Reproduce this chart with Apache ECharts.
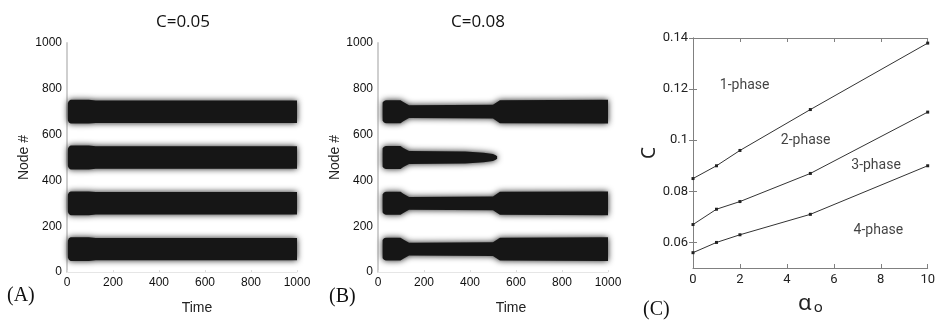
<!DOCTYPE html>
<html><head><meta charset="utf-8">
<script src="https://cdn.jsdelivr.net/npm/echarts@6/dist/echarts.min.js"></script>
<style>html,body{margin:0;padding:0;background:#fff}#c{width:938px;height:320px}</style>
</head><body><div id="c"></div>
<script>
// ---- Panels A and B: node activity bands ----
const bandCentersA = [100, 300, 500, 700];
const profileTimeA = [4, 8, 16, 95, 125, 1000];
const profileHalfA = [38, 47, 52, 52, 49, 49];
const bandCentersB = [100, 300, 700];
const profileTimeB = [20, 26, 34, 98, 110, 135, 500, 530, 1000];
const profileHalfB = [40, 47, 50, 50, 42, 28, 30, 50, 52];
const bandCenterB500 = 500;
const profileTimeB500 = [20, 26, 34, 98, 110, 135, 380, 460, 500, 512, 518];
const profileHalfB500 = [40, 47, 50, 50, 42, 28, 26, 21, 15, 10, 5];
const titlesAB = ['C=0.05', 'C=0.08'];
// ---- Panel C: phase diagram ----
const alphaX = [0, 1, 2, 5, 10];
const line1 = [0.085, 0.090, 0.096, 0.112, 0.138];
const line2 = [0.067, 0.073, 0.076, 0.087, 0.111];
const line3 = [0.056, 0.060, 0.063, 0.071, 0.090];
const phaseLabels = ['1-phase', '2-phase', '3-phase', '4-phase'];
const phaseX = [2.2, 4.8, 7.8, 7.9];
const phaseY = [0.1215, 0.100, 0.090, 0.0645];
const cTicks = [0.06, 0.08, 0.1, 0.12, 0.14];
const panelLetters = ['(A)', '(B)', '(C)'];

const profiles = [
  [profileTimeA, profileHalfA],
  [profileTimeB, profileHalfB],
  [profileTimeB500, profileHalfB500]
];

function bandItem(params, api) {
  const center = api.value(1);
  const prof = profiles[api.value(2)];
  const ts = prof[0], hs = prof[1];
  const pts = [];
  for (let i = 0; i < ts.length; i++) pts.push(api.coord([ts[i], center + hs[i]]));
  for (let i = ts.length - 1; i >= 0; i--) pts.push(api.coord([ts[i], center - hs[i]]));
  return {
    type: 'polygon',
    shape: { points: pts },
    style: { fill: '#161616', shadowBlur: 6, shadowColor: 'rgba(0,0,0,0.9)' }
  };
}

const dataA = bandCentersA.map(c => [0, c, 0]);
const dataB = bandCentersB.map(c => [0, c, 1]).concat([[0, bandCenterB500, 2]]);

const tickFont = { color: '#111', fontSize: 12, fontFamily: 'Liberation Sans, Arial, sans-serif', formatter: v => String(v) };
const cFont = { color: '#222', fontSize: 13, fontFamily: 'Roboto, sans-serif' };

function abX(gi, padLeft) {
  return {
    type: 'value', gridIndex: gi, min: 0, max: 1000, interval: 200,
    axisLine: { show: true, lineStyle: { color: '#e6e6e6', width: 1 } },
    axisTick: { show: true, inside: true, length: 2, lineStyle: { color: '#ddd' } },
    axisLabel: Object.assign({ margin: 5 }, tickFont),
    splitLine: { show: false },
    name: 'Time', nameLocation: 'middle', nameGap: 29,
    nameTextStyle: { fontSize: 14, color: '#222', fontFamily: 'Liberation Sans, Arial, sans-serif', padding: [0, 0, 0, padLeft] }
  };
}
function abY(gi, gap) {
  return {
    type: 'value', gridIndex: gi, min: 0, max: 1000, interval: 200,
    axisLine: { show: true, lineStyle: { color: '#cfcfcf', width: 2 } },
    axisTick: { show: false },
    axisLabel: Object.assign({ margin: 5 }, tickFont),
    splitLine: { show: false },
    name: 'Node #', nameLocation: 'middle', nameGap: gap, nameRotate: 90,
    nameTextStyle: { fontSize: 14, color: '#222', fontFamily: 'Liberation Sans, Arial, sans-serif' }
  };
}
const boxLine = { show: true, lineStyle: { color: '#808080', width: 1 } };
const boxTick = { show: true, inside: true, length: 4, lineStyle: { color: '#808080' } };

const option = {
  animation: false,
  backgroundColor: '#fff',
  grid: [
    { left: 67, top: 43, width: 230, height: 230 },
    { left: 378, top: 43, width: 230, height: 230 },
    { left: 693, top: 38, width: 241, height: 237 }
  ],
  xAxis: [
    abX(0, 30),
    abX(1, 36),
    {
      type: 'value', gridIndex: 2, min: 0, max: 10, interval: 2,
      axisLine: boxLine, axisTick: boxTick,
      axisLabel: Object.assign({ margin: 5 }, cFont),
      splitLine: { show: false },
      name: '{a|α}{s|o}', nameLocation: 'middle', nameGap: 24,
      nameTextStyle: { color: '#222', rich: {
        a: { fontSize: 22, fontFamily: 'Noto Sans, sans-serif', color: '#222' },
        s: { fontSize: 15, fontFamily: 'Noto Sans, sans-serif', color: '#222', padding: [8, 0, 0, 2] }
      } }
    },
    {
      type: 'value', gridIndex: 2, position: 'top', min: 0, max: 10, interval: 2,
      axisLine: boxLine, axisTick: boxTick, axisLabel: { show: false }, splitLine: { show: false }
    }
  ],
  yAxis: [
    abY(0, 36),
    abY(1, 31),
    {
      type: 'value', gridIndex: 2, min: 0.05, max: 0.14, interval: 0.01,
      axisLine: boxLine,
      axisTick: Object.assign({ customValues: cTicks }, boxTick),
      axisLabel: Object.assign({ margin: 5, customValues: cTicks }, cFont),
      splitLine: { show: false },
      name: 'C', nameLocation: 'middle', nameGap: 28, nameRotate: 90,
      nameTextStyle: { fontSize: 19, color: '#222', fontFamily: 'Noto Sans, sans-serif' }
    },
    {
      type: 'value', gridIndex: 2, position: 'right', min: 0.05, max: 0.14, interval: 0.01,
      axisLine: boxLine,
      axisTick: Object.assign({ customValues: cTicks }, boxTick),
      axisLabel: { show: false }, splitLine: { show: false }
    }
  ],
  series: [
    { type: 'custom', xAxisIndex: 0, yAxisIndex: 0, renderItem: bandItem, data: dataA, encode: { x: 0, y: 1 }, silent: true },
    { type: 'custom', xAxisIndex: 1, yAxisIndex: 1, renderItem: bandItem, data: dataB, encode: { x: 0, y: 1 }, silent: true }
  ].concat([line1, line2, line3].map(ys => ({
    type: 'line', xAxisIndex: 2, yAxisIndex: 2, silent: true,
    data: alphaX.map((x, i) => [x, ys[i]]),
    symbol: 'rect', symbolSize: 3, showSymbol: true,
    lineStyle: { color: '#333', width: 1 }, itemStyle: { color: '#222' }
  }))).concat([{
    type: 'scatter', xAxisIndex: 2, yAxisIndex: 2, silent: true, symbolSize: 0,
    data: phaseLabels.map((t, i) => [phaseX[i], phaseY[i], t]),
    label: { show: true, position: 'inside', formatter: p => p.data[2], color: '#111', fontSize: 14,
      fontFamily: 'Roboto, sans-serif' }
  }]),
  graphic: [
    { type: 'text', x: 183, y: 22, style: { text: titlesAB[0], font: '17px "Open Sans", sans-serif', fill: '#111', align: 'center', verticalAlign: 'middle' } },
    { type: 'text', x: 478, y: 22, style: { text: titlesAB[1], font: '17px "Open Sans", sans-serif', fill: '#111', align: 'center', verticalAlign: 'middle' } },
    { type: 'text', x: 7, y: 296, style: { text: panelLetters[0], font: '20px "Liberation Serif", serif', fill: '#111', verticalAlign: 'middle' } },
    { type: 'text', x: 329, y: 297, style: { text: panelLetters[1], font: '20px "Liberation Serif", serif', fill: '#111', verticalAlign: 'middle' } },
    { type: 'text', x: 643, y: 310, style: { text: panelLetters[2], font: '20px "Liberation Serif", serif', fill: '#111', verticalAlign: 'middle' } }
  ]
};
echarts.init(document.getElementById('c')).setOption(option);
</script></body></html>
